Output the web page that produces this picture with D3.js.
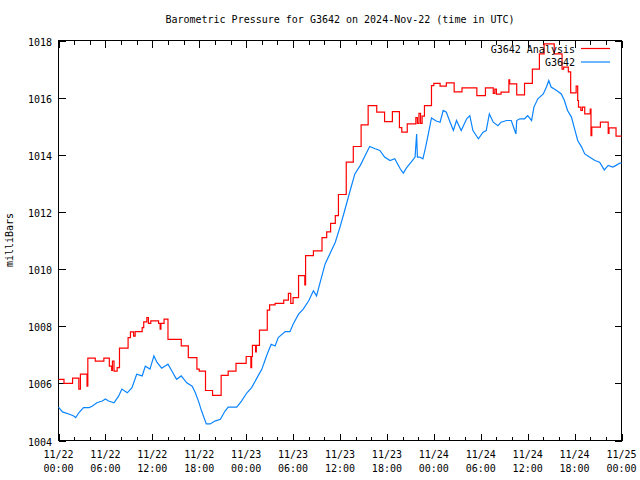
<!DOCTYPE html>
<html><head><meta charset="utf-8">
<script src="https://cdn.jsdelivr.net/npm/d3@7"></script>
<style>
body{margin:0;background:#fff}
text{font-family:"DejaVu Sans Mono","Liberation Mono",monospace;font-size:10px;fill:#000}
</style></head><body>
<svg id="c" width="640" height="480"></svg>
<script>
const titleText = "Barometric Pressure for G3642 on 2024-Nov-22 (time in UTC)";
const yLabel = "milliBars";
const seriesNames = ["G3642 Analysis", "G3642"];
const seriesColors = ["#ff0000", "#0a84ff"];
const yTicks = [1004, 1006, 1008, 1010, 1012, 1014, 1016, 1018];
const startTime = Date.UTC(2024, 10, 22, 0, 0);
const endTime = Date.UTC(2024, 10, 25, 0, 0);

// hours since 2024-11-22 00:00 UTC, pressure in mbar
const analysisHours = [0,0.7,1.8,2.6,2.8,3.65,3.75,4.7,5.8,6.5,6.8,6.9,7.1,7.5,7.8,8.9,9.2,9.6,9.8,10.7,10.9,11.3,11.5,11.8,12.8,13.0,13.1,13.5,14.0,15.7,16.6,17.7,18.0,18.8,19.7,20.8,21.7,22.7,24.0,24.6,24.7,24.8,25.2,25.3,25.7,26.7,27.0,27.7,28.8,29.4,29.7,30.0,30.7,31.5,31.6,32.6,33.7,34.3,34.8,35.4,35.8,36.8,37.7,38.7,39.6,40.7,41.7,42.7,43.6,43.9,44.6,45.7,45.9,46.1,46.3,46.5,46.8,47.7,48.0,48.8,49.6,50.6,51.6,53.5,54.6,55.6,55.8,56.0,56.6,57.6,57.7,58.6,59.6,60.6,61.5,62.1,63.4,64.4,64.6,65.2,65.5,66.2,66.4,66.5,66.8,67.0,67.3,68.0,68.1,68.2,69.3,70.3,70.4,71.3,72];
const analysisValues = [1006.14,1006.0,1006.18,1005.8,1006.32,1005.9,1006.88,1006.78,1006.88,1006.6,1006.45,1006.78,1006.43,1006.55,1007.23,1007.6,1007.8,1007.65,1007.81,1007.95,1008.15,1008.3,1008.1,1008.19,1008.1,1007.9,1008.1,1008.25,1007.54,1007.31,1006.9,1006.5,1006.43,1005.75,1005.58,1006.28,1006.43,1006.7,1006.94,1006.55,1006.94,1007.33,1007.1,1007.33,1007.86,1008.56,1008.75,1008.8,1008.91,1009.15,1008.8,1009.0,1009.77,1009.45,1010.47,1010.64,1011.1,1011.3,1011.6,1011.87,1012.61,1013.74,1014.29,1015.05,1015.72,1015.49,1015.16,1015.51,1014.95,1014.79,1015.08,1015.3,1015.1,1015.45,1015.1,1015.35,1015.72,1016.42,1016.5,1016.4,1016.52,1016.2,1016.34,1016.07,1016.34,1016.15,1016.3,1016.12,1016.19,1016.62,1016.48,1016.1,1016.5,1017.0,1017.53,1017.88,1017.53,1017.0,1017.07,1016.9,1016.17,1016.4,1015.9,1015.67,1015.55,1015.67,1015.43,1015.6,1014.67,1014.97,1015.14,1014.75,1014.94,1014.65,1014.65];

const stationHours = [0,0.5,1.5,2.0,2.2,2.6,3.2,3.9,4.3,4.9,5.6,6.0,6.4,7.1,7.7,8.1,8.8,9.4,10.0,10.7,11.1,11.7,12.2,12.6,13.2,14.0,14.5,15.1,15.7,16.4,17.1,17.5,17.9,18.3,18.9,19.4,20.0,20.7,21.3,21.7,22.8,23.4,24.1,24.7,25.4,26.0,26.6,27.2,27.7,28.1,29.0,29.6,30.0,30.7,31.3,32.0,32.6,33.0,33.4,34.1,34.7,35.4,36.0,36.6,37.3,37.9,38.6,39.2,39.8,40.5,41.1,41.7,42.4,43.0,43.7,44.1,44.5,45.1,45.6,45.8,45.9,46.2,46.6,46.9,47.3,47.7,48.3,48.8,49.2,49.6,50.0,50.5,50.9,51.5,52.2,52.6,53.0,53.7,54.3,54.7,55.1,55.6,56.2,56.6,57.3,57.9,58.5,58.6,59.0,59.6,60.0,60.5,60.8,61.3,62.0,62.4,62.7,63.0,63.7,64.3,64.7,65.1,65.6,66.0,66.4,66.9,67.3,67.9,68.6,69.2,69.8,70.3,70.9,71.3,71.8,72];
const stationValues = [1005.17,1005.0,1004.91,1004.85,1004.8,1004.97,1005.15,1005.15,1005.2,1005.32,1005.38,1005.45,1005.38,1005.32,1005.56,1005.8,1005.67,1005.85,1006.32,1006.26,1006.6,1006.5,1006.96,1006.73,1006.53,1006.67,1006.43,1006.14,1006.26,1006.02,1005.9,1005.67,1005.38,1005.03,1004.58,1004.58,1004.68,1004.74,1005.03,1005.17,1005.17,1005.38,1005.67,1005.85,1006.2,1006.49,1006.96,1007.37,1007.31,1007.6,1007.81,1007.81,1008.07,1008.42,1008.6,1008.89,1009.24,1009.06,1009.47,1010.18,1010.53,1010.94,1011.47,1012.05,1012.75,1013.33,1013.63,1013.97,1014.29,1014.21,1014.15,1013.92,1013.8,1013.86,1013.51,1013.36,1013.54,1013.74,1013.92,1014.73,1013.92,1013.92,1013.86,1014.21,1014.73,1015.29,1015.18,1015.14,1015.55,1015.49,1015.2,1014.85,1015.2,1014.85,1015.26,1015.37,1014.85,1014.56,1014.79,1014.85,1015.43,1015.14,1015.02,1015.14,1015.2,1015.2,1014.73,1015.2,1015.26,1015.26,1015.37,1015.2,1015.67,1015.96,1016.13,1016.37,1016.6,1016.37,1016.25,1016.13,1015.9,1015.55,1015.32,1014.91,1014.5,1014.27,1014.03,1013.92,1013.8,1013.74,1013.47,1013.63,1013.57,1013.63,1013.71,1013.71];

const H = 3600 * 1000;
const analysis = analysisHours.map((h, i) => ({t: new Date(startTime + h * H), v: analysisValues[i]}));
const station = stationHours.map((h, i) => ({t: new Date(startTime + h * H), v: stationValues[i]}));

const svg = d3.select("#c");
const L = 58.5, R = 621.5, T = 40.5, B = 440.5;
const x = d3.scaleUtc().domain([new Date(startTime), new Date(endTime)]).range([L, R]);
const y = d3.scaleLinear().domain([1004, 1018]).range([B, T]);

svg.append("rect").attr("x", L).attr("y", T).attr("width", R - L).attr("height", B - T)
  .attr("fill", "none").attr("stroke", "#000").attr("stroke-width", 1);

const major = x.ticks(d3.utcHour.every(6));
const minor = x.ticks(d3.utcHour.every(2)).filter(d => d.getUTCHours() % 6 !== 0);
const g = svg.append("g").attr("stroke", "#000").attr("stroke-width", 1).attr("shape-rendering", "crispEdges");
major.forEach(d => {
  const px = Math.round(x(d)) + 0.5;
  g.append("line").attr("x1", px).attr("x2", px).attr("y1", B).attr("y2", B - 7);
  g.append("line").attr("x1", px).attr("x2", px).attr("y1", T).attr("y2", T + 7);
});
minor.forEach(d => {
  const px = Math.round(x(d)) + 0.5;
  g.append("line").attr("x1", px).attr("x2", px).attr("y1", B).attr("y2", B - 4);
  g.append("line").attr("x1", px).attr("x2", px).attr("y1", T).attr("y2", T + 4);
});
yTicks.forEach(v => {
  const py = Math.round(y(v)) + 0.5;
  g.append("line").attr("x1", L).attr("x2", L + 7).attr("y1", py).attr("y2", py);
  g.append("line").attr("x1", R).attr("x2", R - 7).attr("y1", py).attr("y2", py);
  svg.append("text").attr("x", 52).attr("y", py + 4).attr("text-anchor", "end").text(d3.format("d")(v));
});
const fDay = d3.utcFormat("%m/%d"), fTime = d3.utcFormat("%H:%M");
major.forEach(d => {
  const px = x(d);
  svg.append("text").attr("x", px).attr("y", 458).attr("text-anchor", "middle").text(fDay(d));
  svg.append("text").attr("x", px).attr("y", 472).attr("text-anchor", "middle").text(fTime(d));
});

svg.append("text").attr("x", 340).attr("y", 23).attr("text-anchor", "middle").text(titleText);
svg.append("text").attr("transform", "translate(13,240) rotate(-90)").attr("text-anchor", "middle").text(yLabel);

const stepLine = d3.line().x(d => x(d.t)).y(d => y(d.v)).curve(d3.curveStepAfter);
const plainLine = d3.line().x(d => x(d.t)).y(d => y(d.v)).curve(d3.curveLinear);
svg.append("path").datum(analysis).attr("d", stepLine).attr("fill", "none")
  .attr("stroke", seriesColors[0]).attr("stroke-width", 1.2);
svg.append("path").datum(station).attr("d", plainLine).attr("fill", "none")
  .attr("stroke", seriesColors[1]).attr("stroke-width", 1.2);

seriesNames.forEach((n, i) => {
  const ly = 48.5 + i * 13.5;
  svg.append("text").attr("x", 575).attr("y", ly + 4).attr("text-anchor", "end").text(n);
  svg.append("line").attr("x1", 581).attr("x2", 610).attr("y1", ly).attr("y2", ly)
    .attr("stroke", seriesColors[i]).attr("stroke-width", 1.2);
});
</script></body></html>
